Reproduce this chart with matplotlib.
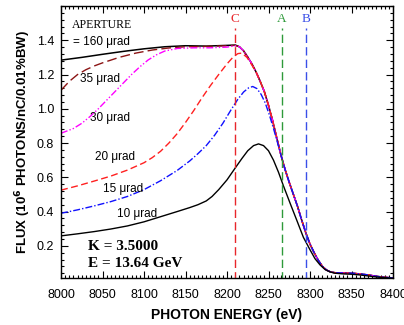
import matplotlib
matplotlib.use("Agg")
import matplotlib.pyplot as plt
from matplotlib.ticker import MultipleLocator

# ---------------- data ----------------
e_160 = [8000, 8025, 8050, 8075, 8100, 8125, 8150, 8175, 8200, 8210, 8215, 8220, 8225,
         8230, 8235, 8240, 8245, 8250, 8255, 8260, 8265, 8270, 8275, 8280, 8285, 8290,
         8295, 8300, 8305, 8310, 8315, 8320, 8325, 8330, 8340, 8350, 8360, 8370, 8380,
         8390, 8400]
f_160 = [1.284, 1.300, 1.318, 1.335, 1.350, 1.362, 1.368, 1.366, 1.370, 1.372, 1.362,
         1.338, 1.302, 1.262, 1.215, 1.160, 1.100, 1.020, 0.930, 0.830, 0.730, 0.645,
         0.570, 0.500, 0.430, 0.350, 0.275, 0.210, 0.160, 0.115, 0.080, 0.058, 0.047,
         0.043, 0.041, 0.040, 0.036, 0.030, 0.022, 0.016, 0.012]

e_35 = [8000, 8010, 8020, 8030, 8040, 8050, 8070, 8090, 8110, 8130, 8150, 8175, 8200,
        8210, 8215, 8220, 8225, 8230, 8235, 8240, 8245, 8250, 8255, 8260, 8265, 8270,
        8275, 8280, 8285, 8290, 8295, 8300, 8305, 8310, 8315, 8320, 8325, 8330, 8340,
        8350, 8360, 8370, 8380, 8390, 8400]
f_35 = [1.108, 1.160, 1.200, 1.228, 1.250, 1.268, 1.300, 1.325, 1.343, 1.355, 1.362,
        1.364, 1.368, 1.370, 1.362, 1.338, 1.302, 1.262, 1.215, 1.160, 1.100, 1.020,
        0.930, 0.830, 0.730, 0.645, 0.570, 0.500, 0.430, 0.350, 0.275, 0.210, 0.160,
        0.115, 0.080, 0.058, 0.047, 0.043, 0.041, 0.040, 0.036, 0.030, 0.022, 0.016,
        0.012]

e_30 = [8000, 8015, 8025, 8035, 8045, 8055, 8065, 8075, 8085, 8095, 8105, 8115, 8125,
        8140, 8160, 8180, 8200, 8210, 8215, 8220, 8225, 8230, 8235, 8240, 8245, 8250,
        8255, 8260, 8265, 8270, 8275, 8280, 8285, 8290, 8295, 8300, 8305, 8310, 8315,
        8320, 8325, 8330, 8340, 8350, 8360, 8370, 8380, 8390, 8400]
f_30 = [0.857, 0.885, 0.915, 0.955, 1.000, 1.050, 1.100, 1.150, 1.200, 1.245, 1.285,
        1.315, 1.337, 1.352, 1.356, 1.356, 1.360, 1.368, 1.362, 1.338, 1.302, 1.262,
        1.215, 1.160, 1.100, 1.020, 0.930, 0.830, 0.730, 0.645, 0.570, 0.500, 0.430,
        0.350, 0.275, 0.210, 0.160, 0.115, 0.080, 0.058, 0.047, 0.043, 0.041, 0.040,
        0.036, 0.030, 0.022, 0.016, 0.012]

e_20 = [8000, 8020, 8040, 8060, 8080, 8100, 8110, 8120, 8130, 8140, 8150, 8160, 8170,
        8180, 8190, 8200, 8207, 8213, 8218, 8224, 8230, 8236, 8240, 8245, 8250, 8255,
        8260, 8265, 8270, 8275, 8280, 8285, 8290, 8295, 8300, 8305, 8310, 8315, 8320,
        8325, 8330, 8340, 8350, 8360, 8370, 8380, 8390, 8400]
f_20 = [0.525, 0.550, 0.578, 0.607, 0.642, 0.685, 0.715, 0.752, 0.800, 0.855, 0.920,
        0.990, 1.065, 1.135, 1.200, 1.262, 1.300, 1.322, 1.325, 1.300, 1.255, 1.205,
        1.160, 1.100, 1.020, 0.930, 0.830, 0.730, 0.645, 0.570, 0.500, 0.430, 0.350,
        0.275, 0.210, 0.160, 0.115, 0.080, 0.058, 0.047, 0.043, 0.041, 0.040, 0.036,
        0.030, 0.022, 0.016, 0.012]

e_15 = [8000, 8020, 8040, 8060, 8080, 8100, 8120, 8140, 8155, 8165, 8175, 8185, 8195,
        8205, 8213, 8220, 8226, 8231, 8236, 8241, 8246, 8251, 8256, 8261, 8265, 8270,
        8275, 8280, 8285, 8290, 8295, 8300, 8305, 8310, 8315, 8320, 8325, 8330, 8340,
        8350, 8360, 8370, 8380, 8390, 8400]
f_15 = [0.390, 0.410, 0.433, 0.458, 0.488, 0.528, 0.580, 0.640, 0.695, 0.738, 0.785,
        0.845, 0.915, 0.995, 1.055, 1.098, 1.122, 1.130, 1.118, 1.085, 1.035, 0.965,
        0.885, 0.800, 0.730, 0.645, 0.570, 0.500, 0.430, 0.350, 0.275, 0.210, 0.160,
        0.115, 0.080, 0.058, 0.047, 0.043, 0.041, 0.040, 0.036, 0.030, 0.022, 0.016,
        0.012]

e_10 = [8000, 8020, 8040, 8060, 8080, 8100, 8120, 8140, 8155, 8165, 8175, 8182, 8190,
        8200, 8210, 8218, 8225, 8232, 8238, 8244, 8250, 8256, 8262, 8268, 8276, 8284,
        8292, 8300, 8306, 8312, 8318, 8324, 8330, 8340, 8350, 8360, 8370, 8380, 8390,
        8400]
f_10 = [0.258, 0.270, 0.283, 0.298, 0.316, 0.340, 0.370, 0.400, 0.423, 0.440, 0.462,
        0.488, 0.528, 0.585, 0.655, 0.710, 0.755, 0.785, 0.795, 0.785, 0.755, 0.700,
        0.630, 0.550, 0.449, 0.350, 0.250, 0.177, 0.125, 0.089, 0.062, 0.048, 0.040,
        0.036, 0.034, 0.030, 0.024, 0.018, 0.014, 0.010]

marker_names = ["C", "A", "B"]
marker_energies = [8210, 8266, 8295]
marker_colors = ["#e8262b", "#2e9a3a", "#3a4fe8"]

curve_labels = ["= 160 \u03bcrad", "35 \u03bcrad", "30 \u03bcrad", "20 \u03bcrad",
                "15 \u03bcrad", "10 \u03bcrad"]
x_ticks = [8000, 8050, 8100, 8150, 8200, 8250, 8300, 8350, 8400]
y_ticks = [0.2, 0.4, 0.6, 0.8, 1.0, 1.2, 1.4]

# ---------------- plot ----------------
plt.rcParams['font.family'] = ['Liberation Sans', 'DejaVu Sans']
fig = plt.figure(figsize=(4.04, 3.25), dpi=100)
ax = fig.add_axes([61/404, 1 - 277.5/325, (393-61)/404, (277.5-6)/325])

ax.plot(e_160, f_160, color='black', lw=1.1, ls='-')
ax.plot(e_35, f_35, color='#8b1414', lw=1.0, ls=(0, (7, 3)))
ax.plot(e_30, f_30, color='#ff00ff', lw=1.0, ls=(0, (5, 1.5, 1, 1.5, 1, 1.5)))
ax.plot(e_20, f_20, color='#ff2020', lw=1.0, ls=(0, (5, 2.5)))
ax.plot(e_15, f_15, color='#1010ff', lw=1.0, ls=(0, (5, 1.5, 1, 1.5)))
ax.plot(e_10, f_10, color='black', lw=1.0, ls='-')

for name, en, col in zip(marker_names, marker_energies, marker_colors):
    ax.plot([en, en], [0.0, 1.47], color=col, lw=1.0, ls=(0, (6, 3)))
    ax.text(en, 1.527, name, color=col, fontsize=9.5, family='Liberation Serif',
            ha='center', va='center')

ax.set_xlim(8000, 8400)
ax.set_ylim(0.015, 1.6)
ax.set_xticks(x_ticks)
ax.set_yticks(y_ticks)
ax.set_yticklabels([f"{v:.1f}" for v in y_ticks])
ax.xaxis.set_minor_locator(MultipleLocator(5))
ax.yaxis.set_minor_locator(MultipleLocator(0.04))
ax.tick_params(which='both', direction='in', top=True, right=True, width=0.8,
               labelsize=9, colors='black')
ax.tick_params(which='major', length=5)
ax.tick_params(axis='x', which='major', pad=8)
ax.tick_params(axis='y', which='major', pad=5)
ax.tick_params(which='minor', length=2.5)
for s in ax.spines.values():
    s.set_linewidth(1.0)

ax.set_xlabel("PHOTON ENERGY (eV)", fontsize=10, fontweight='bold', labelpad=5)
ax.set_ylabel("FLUX (10$^{\\mathbf{6}}$ PHOTONS/nC/0.01%BW)", fontsize=9.5,
              fontweight='bold', labelpad=3)

ax.text(8013, 1.489, "APERTURE", family='Liberation Serif', fontsize=8.5,
        ha='left', va='center')
label_pos = [(8014, 1.391), (8023, 1.173), (8035, 0.946), (8041, 0.716),
             (8051, 0.532), (8067, 0.387)]
for txt, (lx, ly) in zip(curve_labels, label_pos):
    ax.text(lx, ly, txt, fontsize=8.5, ha='left', va='center')

ax.text(8033, 0.195, "K = 3.5000", family='Liberation Serif', fontweight='bold',
        fontsize=11, ha='left', va='center')
ax.text(8033, 0.095, "E = 13.64 GeV", family='Liberation Serif', fontweight='bold',
        fontsize=11, ha='left', va='center')

fig.savefig("out.png", dpi=100)
